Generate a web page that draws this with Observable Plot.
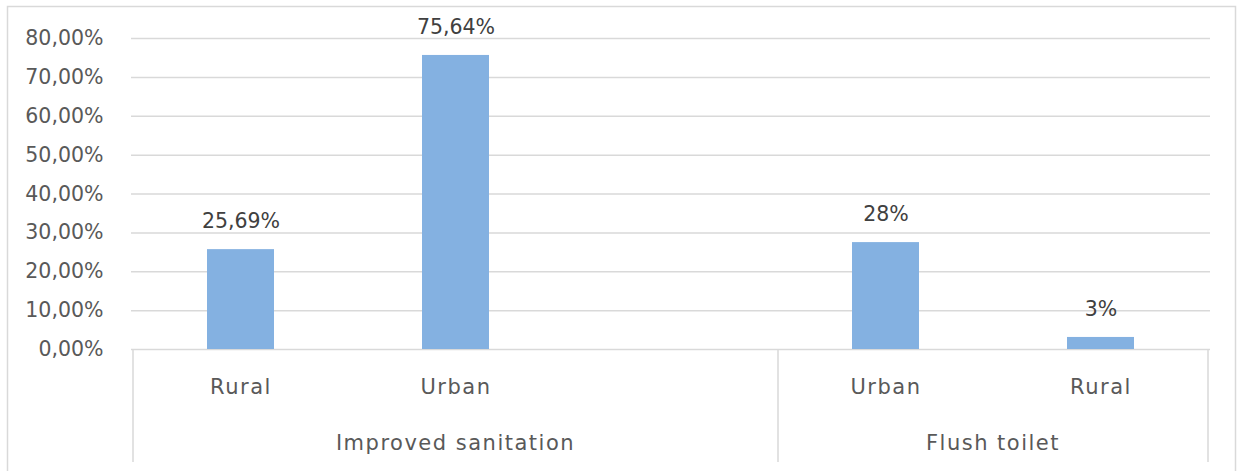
<!DOCTYPE html>
<html>
<head>
<meta charset="utf-8">
<script src="https://cdn.jsdelivr.net/npm/d3@7"></script>
<script src="https://cdn.jsdelivr.net/npm/@observablehq/plot@0.6"></script>
<style>
  html, body { margin: 0; padding: 0; background: #fff; }
  #chart svg { display: block; }
  .catlab text { letter-spacing: 1.5px; }
</style>
</head>
<body>
<div id="chart"></div>
<script>
const slots = ["s0", "s1", "s2", "s3", "s4"];
const categories = ["Rural", "Urban", "", "Urban", "Rural"];
const groups = ["Improved sanitation", "Improved sanitation", "Improved sanitation", "Flush toilet", "Flush toilet"];
const values = [25.69, 75.64, null, 27.5, 3.1];
const valueLabels = ["25,69%", "75,64%", "", "28%", "3%"];
const yTicks = [0, 10, 20, 30, 40, 50, 60, 70, 80];

const FONT = "'DejaVu Sans', sans-serif";
const FS = 20;
const rows = slots.map((s, i) => ({slot: s, cat: categories[i], group: groups[i], value: values[i], label: valueLabels[i]}))
  .filter(d => d.value != null);

function groupAxis(index, scales, vals, dims) {
  const x = scales.x;
  const bw = x(slots[1]) - x(slots[0]);
  const y0 = dims.height - dims.marginBottom;
  const g = d3.create("svg:g");
  g.append("rect")
    .attr("x", 7.5).attr("y", 6.5)
    .attr("width", dims.width - 11).attr("height", dims.height + 20)
    .attr("fill", "none").attr("stroke", "#d9d9d9").attr("stroke-width", 1.5);
  const ext = [];
  slots.forEach((s, i) => {
    if (i === 0 || groups[i] !== groups[i - 1]) ext.push({name: groups[i], x0: x(s), x1: x(s) + bw});
    else ext[ext.length - 1].x1 = x(s) + bw;
  });
  const bounds = [ext[0].x0, ...ext.map(e => e.x1)];
  bounds.forEach(bx => {
    g.append("line")
      .attr("x1", bx).attr("x2", bx).attr("y1", y0).attr("y2", y0 + 113)
      .attr("stroke", "#d9d9d9").attr("stroke-width", 1.5);
  });
  ext.forEach(e => {
    g.append("text")
      .attr("x", (e.x0 + e.x1) / 2).attr("y", y0 + 95)
      .attr("text-anchor", "middle").attr("dominant-baseline", "middle")
      .attr("fill", "#595959").attr("font-size", 21).attr("font-family", FONT)
      .attr("letter-spacing", "1.5px")
      .text(e.name);
  });
  return g.node();
}

const chart = Plot.plot({
  width: 1239,
  height: 471,
  marginLeft: 131,
  marginRight: 29,
  marginTop: 38,
  marginBottom: 122,
  style: {fontFamily: FONT, fontSize: FS + "px", background: "#fff", color: "#595959"},
  x: {type: "band", domain: slots, padding: 0, label: null},
  y: {domain: [0, 80], label: null},
  marks: [
    Plot.gridY(yTicks, {stroke: "#d9d9d9", strokeOpacity: 1, strokeWidth: 1.5}),
    Plot.barY(rows, {x: "slot", y: "value", fill: "#84b1e1", insetLeft: 74, insetRight: 74}),
    Plot.text(rows, {x: "slot", y: "value", text: "label", dy: -28, fill: "#404040", fontSize: 20.5}),
    Plot.axisY(yTicks, {tickSize: 0, tickPadding: 28, fill: "#595959", fontSize: 20.5, label: null,
      tickFormat: d => d.toFixed(2).replace(".", ",") + "%"}),
    Plot.axisX(slots.filter((s, i) => categories[i] !== ""), {tickSize: 0, tickPadding: 30, fill: "#595959", fontSize: 21, label: null,
      className: "catlab", tickFormat: s => categories[slots.indexOf(s)]}),
    groupAxis
  ]
});
document.getElementById("chart").appendChild(chart);
</script>
</body>
</html>
